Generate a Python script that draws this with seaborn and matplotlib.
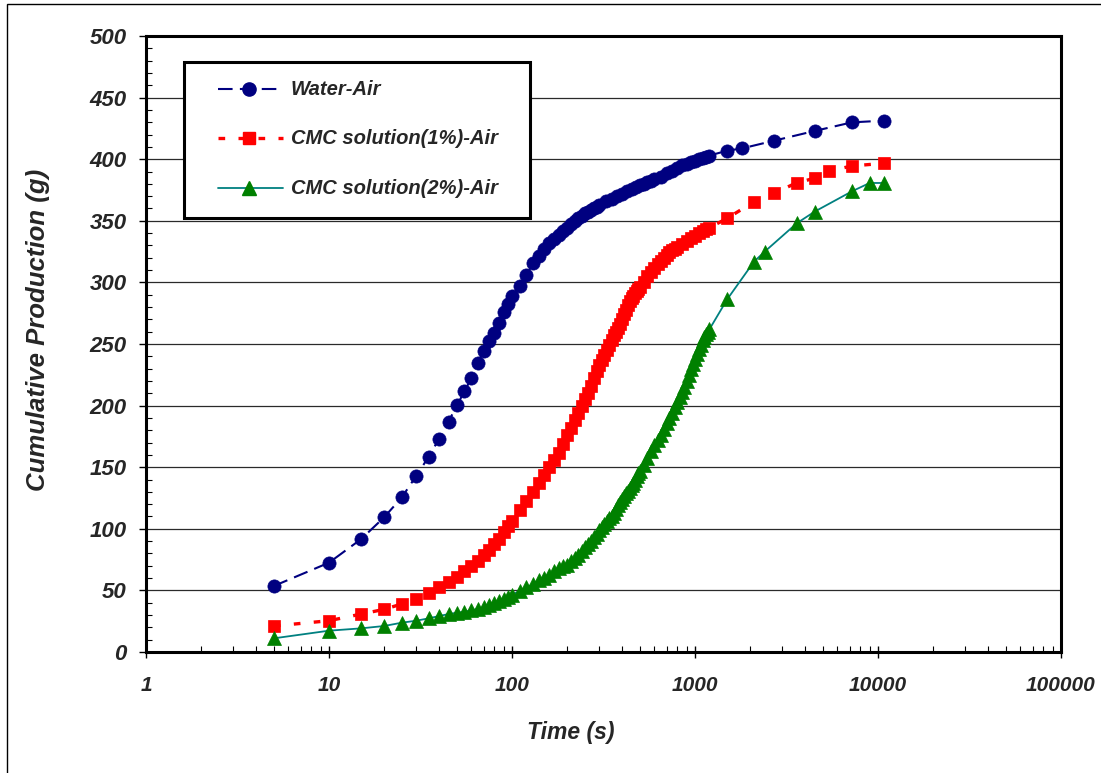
import matplotlib
matplotlib.use("Agg")
import matplotlib.pyplot as plt
from matplotlib.patches import Rectangle
from matplotlib.lines import Line2D
from matplotlib.ticker import FixedLocator, LogLocator, NullFormatter, FixedFormatter
import seaborn as sns
import pandas as pd

# ---------------- data ----------------
water_t = [5, 10, 15, 20, 25, 30, 35, 40, 45, 50, 55, 60, 65, 70, 75, 80, 85, 90, 95,
           100, 110, 120, 130, 140, 150, 160, 170, 180, 190, 200, 210, 220, 230, 240,
           250, 260, 270, 280, 290, 300, 325, 350, 375, 400, 425, 450, 475, 500, 525,
           550, 575, 600, 650, 700, 750, 800, 850, 900, 950, 1000, 1050, 1100, 1150,
           1200, 1500, 1800, 2700, 4500, 7200, 10800]
water_y = [53.6, 72.5, 91.7, 109.3, 125.5, 143.1, 158.3, 173.2, 187.0, 200.2, 211.6,
           222.4, 234.8, 244.3, 252.7, 259.2, 267.3, 276.0, 282.5,
           289.0, 297.0, 306.0, 315.5, 321.5, 327.0, 331.7, 335.0, 338.5, 341.5, 344.5,
           347.0, 349.5, 352.0, 354.3, 356.0, 357.5, 359.0, 360.3, 361.6, 362.8, 365.8,
           368.0, 370.0, 372.0, 374.0, 376.0, 377.4, 378.8, 380.0, 381.2, 382.5, 383.7,
           385.8, 388.8, 390.7, 393.0, 395.2, 396.5, 397.8, 398.9, 399.9, 401.0, 402.0,
           403.0, 406.9, 408.7, 415.0, 422.9, 429.9, 431.3]

cmc1_t = [5, 10, 15, 20, 25, 30, 35, 40, 45, 50, 55, 60, 65, 70, 75, 80, 85, 90, 95,
          100, 110, 120, 130, 140, 150, 160, 170, 180, 190, 200, 210, 220, 230, 240, 250,
          260, 270, 280, 290, 300, 310, 320, 330, 340, 350, 360, 370, 380, 390, 400, 410,
          420, 430, 440, 450, 460, 470, 480, 490, 500, 525, 550, 575, 600, 625, 650, 675,
          700, 725, 750, 775, 800, 850, 900, 950, 1000, 1050, 1100, 1150, 1200,
          1500, 2100, 2700, 3600, 4500, 5400, 7200, 10800]
cmc1_y = [21.1, 25.4, 30.8, 34.6, 39.0, 42.8, 47.6, 52.5, 56.6, 61.1, 65.7, 70.0, 74.0,
          78.5, 83.0, 88.0, 92.0, 97.0, 102.0,
          106.0, 115.0, 122.5, 130.0, 137.5, 144.0, 150.5, 156.0, 161.5, 169.0, 176.0,
          182.0, 188.0, 194.0, 200.0, 205.0, 210.0, 216.0, 222.0, 228.0, 233.0, 237.0,
          241.0, 245.0, 249.0, 253.0, 257.0, 260.0, 263.0, 266.0, 270.0, 274.0, 278.0,
          281.5, 284.5, 287.0, 289.0, 291.0, 293.0, 294.5, 296.0, 300.5, 305.0, 308.5,
          312.0, 315.0, 317.5, 320.0, 322.5, 324.5, 326.0, 327.5, 329.0, 331.5, 334.0,
          336.0, 338.0, 340.0, 341.5, 343.0, 344.5,
          352.0, 365.5, 372.3, 380.9, 384.5, 390.4, 394.5, 396.7]

cmc2_t = [5, 10, 15, 20, 25, 30, 35, 40, 45, 50, 55, 60, 65, 70, 75, 80, 85, 90, 95,
          100, 110, 120, 130, 140, 150, 160, 170, 180, 190, 200, 210, 220, 230, 240, 250,
          260, 270, 280, 290, 300, 310, 320, 330, 340, 350, 360, 370, 380, 390, 400, 410,
          420, 430, 440, 450, 460, 470, 480, 490, 500, 525, 550, 575, 600, 625, 650, 675,
          700, 725, 750, 775, 800, 825, 850, 875, 900, 925, 950, 975, 1000, 1025, 1050,
          1075, 1100, 1125, 1150, 1175, 1200,
          1500, 2100, 2400, 3600, 4500, 7200, 9000, 10800]
cmc2_y = [11.1, 17.3, 19.2, 21.1, 23.8, 25.4, 27.3, 29.2, 30.8, 31.9, 32.7, 33.8, 35.0,
          36.3, 38.0, 39.5, 41.0, 43.0, 44.8,
          46.5, 49.5, 52.5, 55.0, 58.2, 60.0, 62.5, 65.5, 68.5, 70.0, 71.0, 74.0, 76.5,
          79.0, 82.0, 85.0, 87.5, 90.0, 93.0, 96.0, 99.0, 101.5, 104.0, 106.5, 108.5,
          110.5, 113.0, 116.0, 119.0, 121.5, 124.0, 126.5, 129.0, 131.0, 133.5, 135.5,
          137.5, 140.0, 142.5, 145.0, 147.0, 152.0, 157.5, 163.0, 168.0, 172.0, 176.0,
          181.0, 185.5, 190.0, 194.0, 198.5, 203.0, 207.0, 211.0, 215.5, 220.0, 225.0,
          230.0, 234.0, 238.0, 242.0, 246.0, 249.5, 253.0, 255.5, 258.0, 260.0, 262.0,
          286.3, 316.8, 324.9, 348.0, 357.4, 373.9, 380.7, 380.7]

labels = ["Water-Air", "CMC solution(1%)-Air", "CMC solution(2%)-Air"]
y_ticks = [0, 50, 100, 150, 200, 250, 300, 350, 400, 450, 500]
x_ticks = [1, 10, 100, 1000, 10000, 100000]
x_tick_labels = ["1", "10", "100", "1000", "10000", "100000"]

# ---------------- styling ----------------
sns.set_style("white")
plt.rcParams["font.family"] = ["Liberation Sans", "DejaVu Sans"]
plt.rcParams["font.weight"] = "bold"
plt.rcParams["font.style"] = "italic"

W, H = 1101, 773
fig = plt.figure(figsize=(W / 100, H / 100), dpi=100)
ax_l, ax_r, ax_t, ax_b = 146, 1061, 36, 652
ax = fig.add_axes([ax_l / W, 1 - ax_b / H, (ax_r - ax_l) / W, (ax_b - ax_t) / H])

NAVY = "#000080"
RED = "#FF0000"
GREEN = "#008000"
TEAL = "#008080"

water_df = pd.DataFrame({"t": water_t, "y": water_y})
cmc1_df = pd.DataFrame({"t": cmc1_t, "y": cmc1_y})
cmc2_df = pd.DataFrame({"t": cmc2_t, "y": cmc2_y})

sns.lineplot(data=water_df, x="t", y="y", ax=ax, color=NAVY, lw=1.5,
             linestyle=(0, (7, 3.5)), marker="o", markersize=9.5,
             markerfacecolor=NAVY, markeredgecolor=NAVY, markeredgewidth=0.5,
             errorbar=None, zorder=3)
sns.lineplot(data=cmc1_df, x="t", y="y", ax=ax, color=RED, lw=2.4,
             linestyle=(0, (2, 4)), marker="s", markersize=9,
             markerfacecolor=RED, markeredgecolor=RED, markeredgewidth=0.5,
             errorbar=None, zorder=4)
sns.lineplot(data=cmc2_df, x="t", y="y", ax=ax, color=TEAL, lw=1.3,
             linestyle="-", marker="^", markersize=10,
             markerfacecolor=GREEN, markeredgecolor=GREEN, markeredgewidth=0.5,
             errorbar=None, zorder=5)

ax.set_xscale("log")
ax.set_xlim(1, 100000)
ax.set_ylim(0, 500)

ax.xaxis.set_major_locator(FixedLocator(x_ticks))
ax.xaxis.set_major_formatter(FixedFormatter(x_tick_labels))
ax.xaxis.set_minor_locator(LogLocator(base=10, subs=range(2, 10), numticks=100))
ax.xaxis.set_minor_formatter(NullFormatter())
ax.yaxis.set_major_locator(FixedLocator(y_ticks))
ax.yaxis.set_minor_locator(FixedLocator(range(0, 501, 10)))

ax.yaxis.grid(True, which="major", color="#2a2a2a", lw=0.9)
ax.xaxis.grid(False)
ax.set_axisbelow(True)

for s in ax.spines.values():
    s.set_visible(True)
    s.set_color("black")
    s.set_linewidth(2.2)

ax.tick_params(axis="x", which="major", direction="inout", length=9, width=1.0,
               color="black", pad=13, labelsize=15, bottom=True)
ax.tick_params(axis="x", which="minor", direction="in", length=4, width=0.8,
               color="black", bottom=True)
ax.tick_params(axis="y", which="major", direction="out", length=5, width=1.0,
               color="black", pad=9, labelsize=16, left=True)
ax.tick_params(axis="y", which="minor", direction="in", length=4, width=0.8,
               color="black", left=True)
for lab in ax.get_xticklabels() + ax.get_yticklabels():
    lab.set_fontweight("bold")
    lab.set_fontstyle("italic")

ax.set_xlabel("Time (s)", fontsize=16.5, fontweight="bold", fontstyle="italic")
ax.set_ylabel("Cumulative Production (g)", fontsize=18.5, fontweight="bold",
              fontstyle="italic")
ax.xaxis.label.set_va("center")
ax.yaxis.label.set_va("center")
axw, axh = ax_r - ax_l, ax_b - ax_t
ax.xaxis.set_label_coords((571 - ax_l) / axw, (ax_b - 733) / axh)
ax.yaxis.set_label_coords((38 - ax_l) / axw, (ax_b - 330) / axh)

# ---------------- legend (drawn as a boxed key) ----------------
def fx(px):
    return (px - ax_l) / axw

def fy(py):
    return (ax_b - py) / axh

ax.add_patch(Rectangle((fx(184), fy(218)), fx(530) - fx(184), fy(62) - fy(218),
                       transform=ax.transAxes, facecolor="white", edgecolor="black",
                       lw=2.2, zorder=10, clip_on=False))
rows = [89.3, 138.3, 188.3]
styles = [
    dict(color=NAVY, lw=1.5, linestyle=(0, (7, 3.5)), marker="o", ms=9.5,
         mfc=NAVY, mec=NAVY),
    dict(color=RED, lw=2.4, linestyle=(0, (2, 4)), marker="s", ms=9,
         mfc=RED, mec=RED),
    dict(color=TEAL, lw=1.3, linestyle="-", marker="^", ms=10,
         mfc=GREEN, mec=GREEN),
]
for ry, lab, st in zip(rows, labels, styles):
    st = dict(st)
    marker, ms, mfc, mec = st.pop("marker"), st.pop("ms"), st.pop("mfc"), st.pop("mec")
    ax.add_line(Line2D([fx(218), fx(283)], [fy(ry), fy(ry)], transform=ax.transAxes,
                       zorder=11, clip_on=False, **st))
    ax.add_line(Line2D([fx(249)], [fy(ry)], transform=ax.transAxes, linestyle="none",
                       marker=marker, markersize=ms, markerfacecolor=mfc,
                       markeredgecolor=mec, zorder=12, clip_on=False))
    ax.text(fx(291), fy(ry), lab, transform=ax.transAxes, ha="left", va="center",
            fontsize=14.5, fontweight="bold", fontstyle="italic", zorder=12)

# outer chart border (left and top visible in the reference)
fig.add_artist(Rectangle((7 / W, -0.05), 1.2, 1 - 4 / H + 0.05, transform=fig.transFigure,
                         fill=False, edgecolor="black", lw=1.0))

fig.savefig("out.png", dpi=100)
